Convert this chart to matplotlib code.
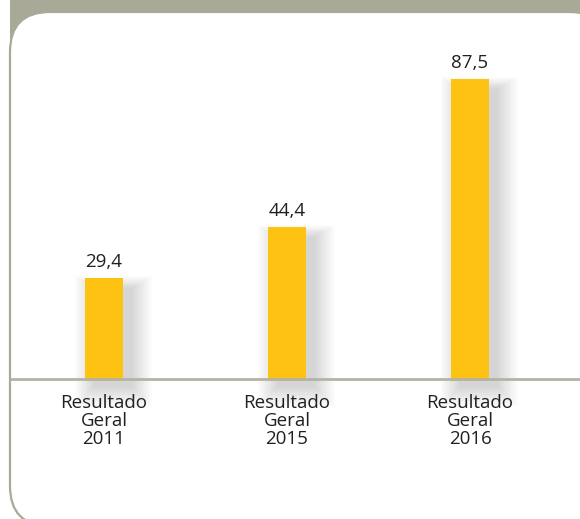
import matplotlib
matplotlib.use("Agg")
import matplotlib.pyplot as plt
from matplotlib.patches import FancyBboxPatch, Rectangle

categories = ["Resultado\nGeral\n2011", "Resultado\nGeral\n2015", "Resultado\nGeral\n2016"]
values = [29.4, 44.4, 87.5]
value_labels = ["29,4", "44,4", "87,5"]

W, H = 580, 519
DPI = 100
fig = plt.figure(figsize=(W / DPI, H / DPI), dpi=DPI)
fig.patch.set_facecolor("white")

GRAY = "#a9a998"
BAR = "#fdc212"
TEXT = "#231f20"

# background decoration axes in pixel coordinates (y downward)
bg = fig.add_axes([0, 0, 1, 1])
bg.set_xlim(0, W)
bg.set_ylim(H, 0)
bg.axis("off")
bg.add_patch(Rectangle((10, 0), W - 10, 60, facecolor=GRAY, edgecolor="none", zorder=0))
r = 40
panel = FancyBboxPatch((10 + r, 12 + r), 600 - 2 * r, 526 - 12 - 2 * r,
                       boxstyle=f"round,pad={r}", facecolor="white",
                       edgecolor=GRAY, linewidth=1.6, zorder=1)
bg.add_patch(panel)

# data axes
ax = fig.add_axes([0, 0, 1, 1])
ax.patch.set_alpha(0)
ax.axis("off")
px_x = 183.0
px_y = 3.43
x0 = 104.0
xmin, xmax = -x0 / px_x, (W - x0) / px_x
ax.set_xlim(xmin, xmax)
base = 379.0
ax.set_ylim(-(H - base) / px_y, base / px_y)

xs = list(range(len(values)))
bw = 38 / px_x

# soft shadows (stacked translucent layers approximating a blur)
for k in range(14):
    g = k * 1.5
    top_off = (10 - 0.6 * g) / px_y
    bot = -(8 + g) / px_y
    ax.bar([x + 9 / px_x for x in xs],
           [v - top_off - bot for v in values],
           width=bw + 2 * g / px_x,
           bottom=bot,
           color="#000000", alpha=0.011, linewidth=0, zorder=2)

ax.bar(xs, [v + 2 / px_y for v in values], width=bw, bottom=-2 / px_y,
       color=BAR, linewidth=0, zorder=3)

ax.plot([xmin + 10 / px_x, xmax], [0, 0], color="#b4b4a4", linewidth=2.0,
        zorder=3.5, solid_capstyle="butt")

for x, v, lab in zip(xs, values, value_labels):
    ax.text(x, v + 16 / px_y, lab, ha="center", va="center", fontsize=13.5,
            family="Open Sans", color=TEXT, zorder=4)

for x, c in zip(xs, categories):
    ax.text(x, -42 / px_y, c, ha="center", va="center", fontsize=13.5,
            family="Open Sans", color=TEXT, linespacing=1.0, zorder=4)

fig.savefig("out.png", dpi=DPI, facecolor="white")
